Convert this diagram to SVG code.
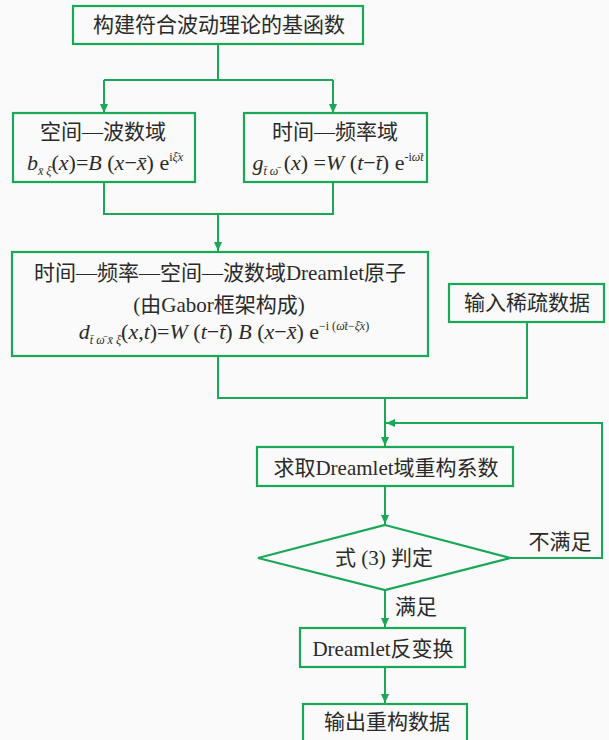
<svg xmlns="http://www.w3.org/2000/svg" width="609" height="740" viewBox="0 0 609 740">
<defs>
<style>
.box{fill:none;stroke:#1aa858;stroke-width:2.2}
.ln{fill:none;stroke:#1aa858;stroke-width:2}
.t{font-family:"Liberation Serif","Noto Sans CJK SC",serif;font-size:21px;fill:#2a2a2a;text-anchor:middle;dominant-baseline:central}
.m{font-family:"Liberation Serif","Noto Sans CJK SC",serif;font-size:22px;fill:#2a2a2a;text-anchor:middle}
.i{font-style:italic}
</style>
<marker id="ah" markerWidth="10" markerHeight="10" refX="9" refY="5" orient="auto" markerUnits="userSpaceOnUse">
<path d="M0,1 L9,5 L0,9 Z" fill="#1aa858"/>
</marker>
</defs>
<rect width="609" height="740" fill="#fafafa"/>
<g id="connectors">
<path class="ln" d="M218,44 V80"/>
<path class="ln" d="M104,80 H333"/>
<path class="ln" d="M104,80 V113" marker-end="url(#ah)"/>
<path class="ln" d="M333,80 V113" marker-end="url(#ah)"/>
<path class="ln" d="M104,182 V214 H333 V182"/>
<path class="ln" d="M218,214 V251" marker-end="url(#ah)"/>
<path class="ln" d="M218,356 V398 H527 V322"/>
<path class="ln" d="M385,398 V446" marker-end="url(#ah)"/>
<path class="ln" d="M510,558 H602 V423 H386" marker-end="url(#ah)"/>
<path class="ln" d="M385,486 V524" marker-end="url(#ah)"/>
<path class="ln" d="M385,590 V627" marker-end="url(#ah)"/>
<path class="ln" d="M385,667 V703" marker-end="url(#ah)"/>
</g>
<g id="n_top">
<rect class="box" x="73" y="6" width="290" height="38"/>
<text class="t" x="219" y="25">构建符合波动理论的基函数</text>
</g>
<g id="n_space">
<rect class="box" x="13" y="113" width="182" height="69"/>
<text class="t" x="103" y="132">空间—波数域</text>
<text class="m" x="105" y="170"><tspan class="i">b</tspan><tspan class="i" font-size="12" dy="5">x̄ ξ̄</tspan><tspan dy="-5">(</tspan><tspan class="i">x</tspan>)=<tspan class="i">B</tspan> (<tspan class="i">x</tspan>−<tspan class="i">x̄</tspan>) e<tspan font-size="12" dy="-9">i<tspan class="i">ξ̄x</tspan></tspan></text>
</g>
<g id="n_time">
<rect class="box" x="244" y="113" width="183" height="69"/>
<text class="t" x="335" y="132">时间—频率域</text>
<text class="m" x="338" y="170"><tspan class="i">g</tspan><tspan class="i" font-size="12" dy="5">t̄ ω̄</tspan><tspan dy="-5"> (</tspan><tspan class="i">x</tspan>) =<tspan class="i">W</tspan> (<tspan class="i">t</tspan>−<tspan class="i">t̄</tspan>) e<tspan font-size="12" dy="-9">-i<tspan class="i">ω̄t</tspan></tspan></text>
</g>
<g id="n_atom">
<rect class="box" x="12" y="252" width="416" height="104"/>
<text class="t" x="220" y="273">时间—频率—空间—波数域Dreamlet原子</text>
<text class="t" x="219" y="305">(由Gabor框架构成)</text>
<text class="m" x="224" y="339"><tspan class="i">d</tspan><tspan class="i" font-size="12" dy="5">t̄ ω̄ x̄ ξ̄</tspan><tspan dy="-5">(</tspan><tspan class="i">x</tspan>,<tspan class="i">t</tspan>)=<tspan class="i">W</tspan> (<tspan class="i">t</tspan>−<tspan class="i">t̄</tspan>) <tspan class="i">B</tspan> (<tspan class="i">x</tspan>−<tspan class="i">x̄</tspan>) e<tspan font-size="12" dy="-9">−i (<tspan class="i">ω̄t</tspan>−<tspan class="i">ξ̄x</tspan>)</tspan></text>
</g>
<g id="n_input">
<rect class="box" x="449" y="284" width="155" height="38"/>
<text class="t" x="527" y="303">输入稀疏数据</text>
</g>
<g id="n_coef">
<rect class="box" x="257" y="447" width="256" height="39"/>
<text class="t" x="386" y="468">求取Dreamlet域重构系数</text>
</g>
<g id="n_judge">
<polygon class="box" points="385,525 510,558 385,590 258,558"/>
<text class="t" x="384" y="558">式 (3) 判定</text>
</g>
<g id="n_inv">
<rect class="box" x="300" y="628" width="165" height="39"/>
<text class="t" x="383" y="649">Dreamlet反变换</text>
</g>
<g id="n_out">
<rect class="box" x="303" y="704" width="164" height="40"/>
<text class="t" x="387" y="722">输出重构数据</text>
</g>
<g id="labels">
<text class="t" x="560" y="542">不满足</text>
<text class="t" x="416" y="607">满足</text>
</g>
</svg>
